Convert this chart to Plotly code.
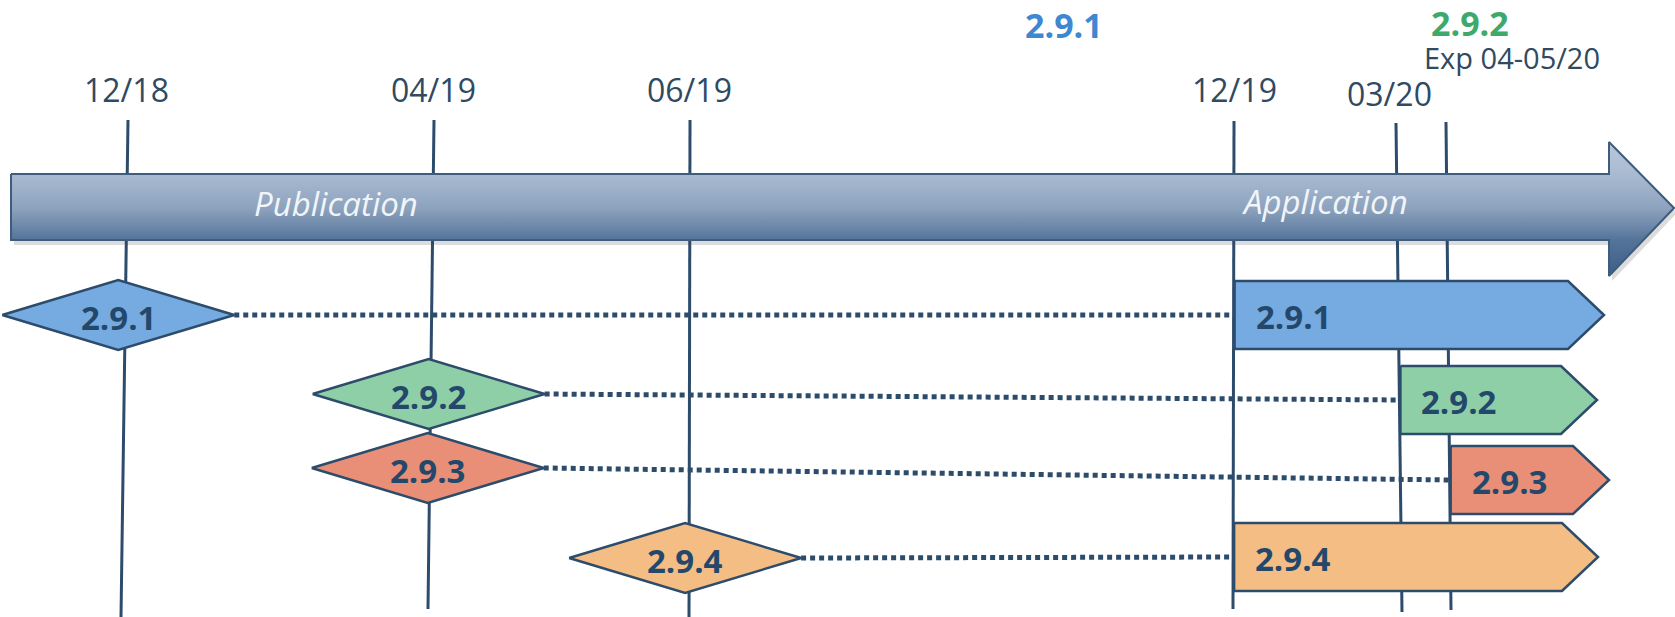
import plotly.graph_objects as go

# ---------------- data ----------------
milestone_labels = ["12/18", "04/19", "06/19", "12/19", "03/20", "Exp 04-05/20"]
milestone_top_x = [128, 434, 690, 1234, 1396, 1446]      # timeline position (top of marker line)
milestone_bottom_x = [121, 428, 689, 1233, 1402, 1451]   # hand-drawn lines lean slightly
versions = ["2.9.1", "2.9.2", "2.9.3", "2.9.4"]
published_at = ["12/18", "04/19", "04/19", "06/19"]
applied_from = ["12/19", "03/20", "Exp 04-05/20", "12/19"]
phase_labels = ["Publication", "Application"]
headline_versions = ["2.9.1", "2.9.2"]

# ---------------- layout / style ----------------
W, H = 1675, 617
version_colors = ["#76abe1", "#8ecfa7", "#e98f78", "#f4bd84"]
headline_colors = ["#3f87d0", "#3ea96b"]
headline_pos = [(1064, 25), (1470, 23)]
line_top_y = [120, 120, 120, 121, 123, 122]
line_bot_y = [617, 609, 617, 609, 612, 610]
label_dx = [-2, -1, -1, 0, -7, 66]
label_y = [89, 89, 89, 89, 93, 57]
label_size = [32, 32, 32, 32, 32, 29]
pub_row_y = [315, 394, 468, 558]
diamond_dx = [-7, -2, -2, -4]
app_row_y = [315, 400, 480, 557]
app_tip_x = [1604, 1597, 1609, 1598]
phase_pos = [(336, 203), (1325, 201)]

OUT = "#2d4c6b"
TXT = "#24486b"
DATE_C = "#2f4a62"
FONT = "Open Sans"

idx = {m: i for i, m in enumerate(milestone_labels)}


def line_x(i, y):
    t = (y - line_top_y[i]) / (line_bot_y[i] - line_top_y[i])
    return milestone_top_x[i] + (milestone_bottom_x[i] - milestone_top_x[i]) * t


fig = go.Figure()

# milestone vertical lines
for i, m in enumerate(milestone_labels):
    fig.add_trace(go.Scatter(
        x=[milestone_top_x[i], milestone_bottom_x[i]],
        y=[line_top_y[i], line_bot_y[i]],
        mode="lines", line=dict(color=OUT, width=3), hoverinfo="skip"))

# big timeline arrow (shadow + gradient body)
band_top, band_bot, head_top, head_bot = 174, 240, 142, 276
band_left, head_base, tip = 11, 1609, 1674
bx = [band_left, head_base, head_base, tip, head_base, head_base, band_left, band_left]
by = [band_top, band_top, head_top, (band_top + band_bot) / 2 + 1, head_bot, band_bot, band_bot, band_top]
fig.add_trace(go.Scatter(x=[v + 3 for v in bx], y=[v + 5 for v in by], fill="toself",
                         fillcolor="rgba(60,60,60,0.18)", line=dict(width=0),
                         mode="lines", hoverinfo="skip"))
fig.add_trace(go.Scatter(
    x=bx, y=by, fill="toself", mode="lines",
    line=dict(color="#3e5c7d", width=2),
    fillgradient=dict(type="vertical", start=head_top, stop=head_bot,
                      colorscale=[[0, "#b9c8da"], [0.24, "#a9bbd1"], [0.5, "#8ca2bd"],
                                  [0.73, "#55749a"], [1, "#3b5d85"]]),
    hoverinfo="skip"))

# dotted connectors
DW, DH = 116, 35
for k, v in enumerate(versions):
    pi = idx[published_at[k]]
    ai = idx[applied_from[k]]
    cx = line_x(pi, pub_row_y[k]) + diamond_dx[k]
    left = line_x(ai, app_row_y[k]) + 1
    fig.add_trace(go.Scatter(x=[cx + DW, left], y=[pub_row_y[k], app_row_y[k]], mode="lines",
                             line=dict(color=OUT, width=5, dash="5px,4px"), hoverinfo="skip"))

# diamonds (publication) and arrows (application)
annotations = []
for k, v in enumerate(versions):
    pi = idx[published_at[k]]
    ai = idx[applied_from[k]]
    cy = pub_row_y[k]
    cx = line_x(pi, cy) + diamond_dx[k]
    fig.add_trace(go.Scatter(
        x=[cx - DW, cx, cx + DW, cx, cx - DW], y=[cy, cy - DH, cy, cy + DH, cy],
        fill="toself", fillcolor=version_colors[k], mode="lines",
        line=dict(color=OUT, width=2.5), hoverinfo="skip"))
    annotations.append(dict(x=cx, y=cy + 2, text="<b>%s</b>" % v, showarrow=False,
                            font=dict(family=FONT, size=33, color=TXT),
                            xanchor="center", yanchor="middle"))
    ay = app_row_y[k]
    left = line_x(ai, ay) + 1
    t = app_tip_x[k]
    be = t - 36
    fig.add_trace(go.Scatter(
        x=[left, be, t, be, left, left], y=[ay - 34, ay - 34, ay, ay + 34, ay + 34, ay - 34],
        fill="toself", fillcolor=version_colors[k], mode="lines",
        line=dict(color=OUT, width=2.5), hoverinfo="skip"))
    annotations.append(dict(x=left + 19, y=ay + 1, text="<b>%s</b>" % v, showarrow=False,
                            font=dict(family=FONT, size=33, color=TXT),
                            xanchor="left", yanchor="middle"))

# milestone date labels
for i, m in enumerate(milestone_labels):
    annotations.append(dict(x=milestone_top_x[i] + label_dx[i], y=label_y[i], text=m, showarrow=False,
                            font=dict(family=FONT, size=label_size[i], color=DATE_C),
                            xanchor="center", yanchor="middle", borderpad=0))

# phase labels on the timeline arrow
for p, (px, py) in zip(phase_labels, phase_pos):
    annotations.append(dict(x=px, y=py, text="<i>%s</i>" % p, showarrow=False,
                            font=dict(family=FONT, size=33, color="#f1f5f9"),
                            xanchor="center", yanchor="middle"))

# headline versions at top
for v, c, (hx, hy) in zip(headline_versions, headline_colors, headline_pos):
    annotations.append(dict(x=hx, y=hy, text="<b>%s</b>" % v, showarrow=False,
                            font=dict(family=FONT, size=34, color=c),
                            xanchor="center", yanchor="middle", borderpad=0))

fig.update_layout(
    width=W, height=H, margin=dict(l=0, r=0, t=0, b=0),
    paper_bgcolor="white", plot_bgcolor="white", showlegend=False,
    xaxis=dict(visible=False, range=[0, W], fixedrange=True),
    yaxis=dict(visible=False, range=[H, 0], fixedrange=True),
    annotations=annotations,
)

# remove the default 8px body margin so the figure fills the window exactly
fig.write_html("out.html", config={"displayModeBar": False},
               post_script="document.body.style.margin='0';")
